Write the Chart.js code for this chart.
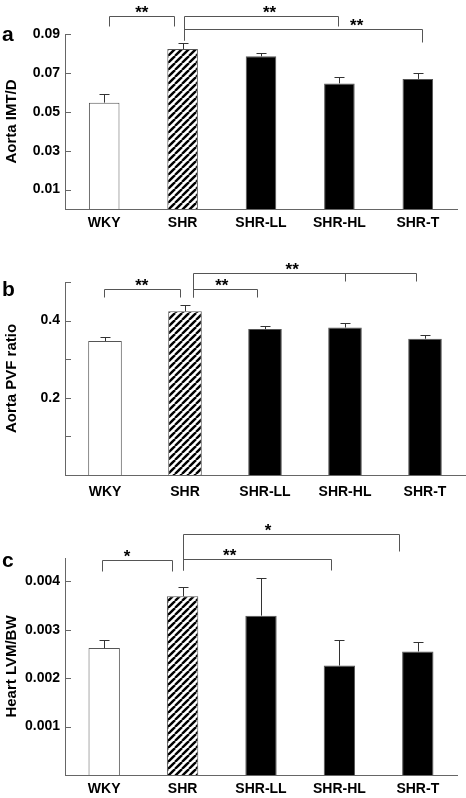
<!DOCTYPE html>
<html>
<head>
<meta charset="utf-8">
<script src="https://cdn.jsdelivr.net/npm/chart.js@4.4.1/dist/chart.umd.min.js"></script>
<style>
    body { margin: 0; background: #fff; }
    .panel { position: absolute; left: 0; width: 466px; }
</style>
</head>
<body>
<div class="panel" style="top:0"><canvas id="chart_imt" width="466" height="250"></canvas></div>
<div class="panel" style="top:250px"><canvas id="chart_pvf" width="466" height="260"></canvas></div>
<div class="panel" style="top:510px"><canvas id="chart_lvm" width="466" height="288"></canvas></div>
<script>
var groups = ['WKY', 'SHR', 'SHR-LL', 'SHR-HL', 'SHR-T'];

// a: Aorta IMT/D
var imtMeans = [0.0547, 0.0823, 0.0785, 0.0646, 0.0669];
var imtErrors = [0.0044, 0.0032, 0.0016, 0.0031, 0.0032];
var imtTicks = [0.01, 0.03, 0.05, 0.07, 0.09];
var imtTickLabels = ['0.01', '0.03', '0.05', '0.07', '0.09'];
var imtBracketFrom = [0.06, 1.02, 1.02];
var imtBracketTo = [0.89, 2.98, 4.05];
var imtBracketTop = [0.0993, 0.0993, 0.0926];
var imtBracketLegL = [0.0943, 0.0870, 0.0870];
var imtBracketLegR = [0.0943, 0.0943, 0.0860];
var imtStars = ['**', '**', '**'];
var imtStarAt = [0.48, 2.11, 3.22];

// b: Aorta PVF ratio
var pvfMeans = [0.347, 0.424, 0.378, 0.382, 0.353];
var pvfErrors = [0.011, 0.016, 0.007, 0.013, 0.010];
var pvfTicks = [0.1, 0.2, 0.3, 0.4, 0.5];
var pvfTickLabels = ['', '0.2', '', '0.4', ''];
var pvfBracketFrom = [-0.01, 1.1, 1.1];
var pvfBracketTo = [0.94, 1.9, 3.89];
var pvfBracketTop = [0.482, 0.482, 0.523];
var pvfBracketLegL = [0.460, 0.460, 0.460];
var pvfBracketLegR = [0.460, 0.460, 0.503];
var pvfBracketMid = [null, null, 3.0];
var pvfStars = ['**', '**', '**'];
var pvfStarAt = [0.46, 1.46, 2.34];

// c: Heart LVM/BW
var lvmMeans = [0.00262, 0.00369, 0.00329, 0.00226, 0.00255];
var lvmErrors = [0.00016, 0.00019, 0.00078, 0.00053, 0.00019];
var lvmTicks = [0.001, 0.002, 0.003, 0.004];
var lvmTickLabels = ['0.001', '0.002', '0.003', '0.004'];
var lvmBracketFrom = [-0.03, 1.01, 1.01];
var lvmBracketTo = [0.86, 2.89, 3.76];
var lvmBracketTop = [0.004449, 0.004469, 0.004966];
var lvmBracketLegL = [0.004206, 0.004242, 0.004242];
var lvmBracketLegR = [0.004206, 0.004242, 0.00462];
var lvmStars = ['*', '**', '*'];
var lvmStarAt = [0.29, 1.6, 2.09];

var FONT = "'Liberation Sans', Arial, Helvetica, sans-serif";

function makeHatch(ctx) {
    var s = 7;
    var c = document.createElement('canvas');
    c.width = s;
    c.height = s;
    var g = c.getContext('2d');
    g.fillStyle = '#fff';
    g.fillRect(0, 0, s, s);
    g.strokeStyle = '#000';
    g.lineWidth = 2.4;
    for (var k = -1; k <= 1; k++) {
        g.beginPath();
        g.moveTo(k * s, s);
        g.lineTo(k * s + s, 0);
        g.stroke();
    }
    return ctx.createPattern(c, 'repeat');
}

var errorBars = {
    id: 'errorBars',
    afterDatasetsDraw: function (chart, args, opts) {
        var ctx = chart.ctx;
        var y = chart.scales.y;
        var values = chart.data.datasets[0].data;
        ctx.save();
        ctx.strokeStyle = '#333';
        ctx.lineWidth = 1;
        chart.getDatasetMeta(0).data.forEach(function (bar, i) {
            var x = Math.round(bar.x) + 0.5;
            var top = Math.round(y.getPixelForValue(values[i] + opts.errors[i])) + 0.5;
            ctx.beginPath();
            ctx.moveTo(x, bar.y);
            ctx.lineTo(x, top);
            ctx.moveTo(x - 5, top);
            ctx.lineTo(x + 5, top);
            ctx.stroke();
        });
        ctx.restore();
    }
};

// ticks point into the plot, so draw them by hand
var innerTicks = {
    id: 'innerTicks',
    afterDraw: function (chart) {
        var ctx = chart.ctx;
        var y = chart.scales.y;
        ctx.save();
        ctx.strokeStyle = '#666';
        ctx.lineWidth = 1;
        y.ticks.forEach(function (t) {
            var py = Math.round(y.getPixelForValue(t.value)) + 0.5;
            ctx.beginPath();
            ctx.moveTo(y.right, py);
            ctx.lineTo(y.right + 6, py);
            ctx.stroke();
        });
        ctx.restore();
    }
};

var sigBars = {
    id: 'sigBars',
    afterDraw: function (chart, args, o) {
        var ctx = chart.ctx;
        var x = chart.scales.x;
        var y = chart.scales.y;
        var px = function (v) { return Math.round(v) + 0.5; };
        ctx.save();
        ctx.strokeStyle = '#555';
        ctx.lineWidth = 1;
        ctx.fillStyle = '#000';
        ctx.font = 'bold 17px ' + FONT;
        ctx.textAlign = 'center';
        ctx.textBaseline = 'alphabetic';
        o.from.forEach(function (f, i) {
            var x0 = px(x.getPixelForValue(f));
            var x1 = px(x.getPixelForValue(o.to[i]));
            var yt = px(y.getPixelForValue(o.top[i]));
            ctx.beginPath();
            ctx.moveTo(x0, px(y.getPixelForValue(o.legL[i])));
            ctx.lineTo(x0, yt);
            ctx.lineTo(x1, yt);
            ctx.lineTo(x1, px(y.getPixelForValue(o.legR[i])));
            if (o.mid && o.mid[i] !== null) {
                var xm = px(x.getPixelForValue(o.mid[i]));
                ctx.moveTo(xm, yt);
                ctx.lineTo(xm, px(y.getPixelForValue(o.legR[i])));
            }
            ctx.stroke();
            ctx.fillText(o.stars[i], x.getPixelForValue(o.starAt[i]), yt + 1);
        });
        ctx.font = 'bold 21px ' + FONT;
        ctx.textAlign = 'left';
        ctx.textBaseline = 'middle';
        ctx.fillText(o.panel, 2, o.panelY);
        ctx.restore();
    }
};

function makeChart(id, p) {
    var canvas = document.getElementById(id);
    var ctx = canvas.getContext('2d');
    return new Chart(ctx, {
        type: 'bar',
        data: {
            labels: groups,
            datasets: [{
                data: p.means,
                backgroundColor: ['#fff', makeHatch(ctx), '#000', '#000', '#000'],
                borderColor: '#555',
                borderWidth: 1,
                barPercentage: p.barWidth,
                categoryPercentage: 1
            }]
        },
        options: {
            responsive: false,
            animation: false,
            layout: { padding: { top: p.padTop, right: p.padRight, left: 0, bottom: 0 } },
            plugins: {
                legend: { display: false },
                tooltip: { enabled: false },
                errorBars: { errors: p.errors },
                sigBars: p.brackets
            },
            scales: {
                x: {
                    offset: true,
                    grid: { display: false, drawTicks: false },
                    border: { color: '#666', width: 1 },
                    ticks: {
                        color: '#000',
                        font: { family: FONT, size: 14, weight: 'bold' },
                        padding: p.labelPad,
                        maxRotation: 0,
                        autoSkip: false
                    },
                    afterFit: function (s) { s.height = p.xHeight; }
                },
                y: {
                    min: 0,
                    max: p.max,
                    grid: { display: false, drawTicks: false },
                    border: { color: '#666', width: 1 },
                    afterBuildTicks: function (s) {
                        s.ticks = p.ticks.map(function (v) { return { value: v }; });
                    },
                    ticks: {
                        color: '#000',
                        font: { family: FONT, size: 14, weight: 'bold' },
                        padding: 5,
                        callback: function (v, i) { return p.tickLabels[i]; }
                    },
                    title: {
                        display: true,
                        text: p.title,
                        color: '#000',
                        font: { family: FONT, size: 15, weight: 'bold' },
                        padding: { top: 3, bottom: 0 }
                    },
                    afterFit: function (s) { s.width = 65; }
                }
            }
        },
        plugins: [errorBars, innerTicks, sigBars]
    });
}

makeChart('chart_imt', {
    means: imtMeans, errors: imtErrors, max: 0.09,
    ticks: imtTicks, tickLabels: imtTickLabels, title: 'Aorta IMT/D',
    barWidth: 0.39, padTop: 34, padRight: 9, xHeight: 41, labelPad: 6,
    brackets: {
        from: imtBracketFrom, to: imtBracketTo, top: imtBracketTop,
        legL: imtBracketLegL, legR: imtBracketLegR, mid: null,
        stars: imtStars, starAt: imtStarAt, panel: 'a', panelY: 35
    }
});

makeChart('chart_pvf', {
    means: pvfMeans, errors: pvfErrors, max: 0.5,
    ticks: pvfTicks, tickLabels: pvfTickLabels, title: 'Aorta PVF ratio',
    barWidth: 0.42, padTop: 32, padRight: 1, xHeight: 35, labelPad: 9,
    brackets: {
        from: pvfBracketFrom, to: pvfBracketTo, top: pvfBracketTop,
        legL: pvfBracketLegL, legR: pvfBracketLegR, mid: pvfBracketMid,
        stars: pvfStars, starAt: pvfStarAt, panel: 'b', panelY: 40
    }
});

makeChart('chart_lvm', {
    means: lvmMeans, errors: lvmErrors, max: 0.00448,
    ticks: lvmTicks, tickLabels: lvmTickLabels, title: 'Heart LVM/BW',
    barWidth: 0.40, padTop: 48, padRight: 9, xHeight: 23, labelPad: 6,
    brackets: {
        from: lvmBracketFrom, to: lvmBracketTo, top: lvmBracketTop,
        legL: lvmBracketLegL, legR: lvmBracketLegR, mid: null,
        stars: lvmStars, starAt: lvmStarAt, panel: 'c', panelY: 51
    }
});
</script>
</body>
</html>
